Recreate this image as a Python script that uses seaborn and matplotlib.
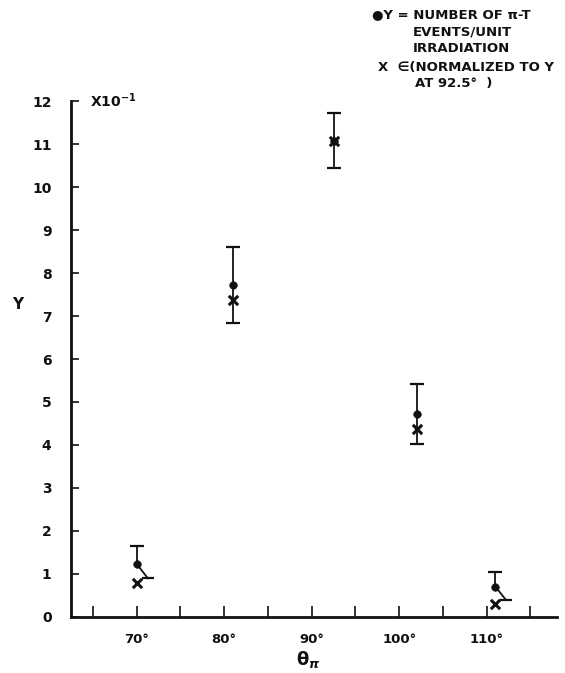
import numpy as np
import pandas as pd
import matplotlib
matplotlib.use("Agg")
import matplotlib.pyplot as plt
import seaborn as sns

# valores (Y en unidades de 10^-1)
theta = [70, 81, 92.5, 102, 111]
y_val = [1.23, 7.73, 11.07, 4.73, 0.70]
y_hi = [1.65, 8.60, 11.73, 5.43, 1.03]
y_lo = [0.89, 6.85, 10.45, 4.03, 0.39]
eps_val = [0.78, 7.37, 11.07, 4.37, 0.30]
slant_dx = [1.3, 0, 0, 0, 1.2]   # barra inferior inclinada para no tapar la X

df = pd.DataFrame({"theta": theta, "Y": y_val, "hi": y_hi, "lo": y_lo,
                   "eps": eps_val, "dx": slant_dx})

sns.set_style("white")
plt.rcParams["font.family"] = ["DejaVu Sans"]
plt.rcParams["font.weight"] = "bold"

fig = plt.figure(figsize=(5.65, 6.73), dpi=100)
ax = fig.add_axes([71 / 565, 1 - 616.7 / 673, (556.7 - 71) / 565, (616.7 - 100.5) / 673])

ink = "#111111"

# barras de error
for _, r in df.iterrows():
    if r.dx == 0:
        ax.errorbar([r.theta], [r.Y], yerr=[[r.Y - r.lo], [r.hi - r.Y]], fmt="none",
                    ecolor=ink, elinewidth=1.3, capsize=5, capthick=1.6)
    else:
        ax.plot([r.theta, r.theta], [r.Y, r.hi], color=ink, lw=1.3)
        ax.plot([r.theta], [r.hi], marker="_", ms=10, mew=1.6, color=ink)
        ax.plot([r.theta, r.theta + r.dx], [r.Y, r.lo], color=ink, lw=1.3)
        ax.plot([r.theta + r.dx], [r.lo], marker="_", ms=8, mew=1.6, color=ink)

sns.scatterplot(data=df, x="theta", y="Y", ax=ax, color=ink, s=30,
                marker="o", edgecolor=ink, zorder=5)
sns.scatterplot(data=df, x="theta", y="eps", ax=ax, color=ink, s=45,
                marker="x", linewidth=2.2, zorder=6)

ax.set_xlim(62.5, 118)
ax.set_ylim(0, 12.02)
ax.set_xticks([65, 70, 75, 80, 85, 90, 95, 100, 105, 110, 115])
ax.set_xticklabels(["", "70°", "", "80°", "", "90°", "", "100°", "", "110°", ""],
                   fontsize=9.5, fontweight="bold")
ax.set_yticks(range(0, 13))
ax.set_yticklabels([str(i) for i in range(0, 13)], fontsize=10, fontweight="bold")
ax.tick_params(axis="x", bottom=True, direction="in", length=8, width=1.2, pad=12, colors=ink)
ax.tick_params(axis="y", left=True, direction="in", length=6, width=1.2, pad=14, colors=ink)
for s in ["top", "right"]:
    ax.spines[s].set_visible(False)
for s in ["left", "bottom"]:
    ax.spines[s].set_linewidth(2)
    ax.spines[s].set_color(ink)
ax.set_xlabel("")
ax.set_ylabel("")

def px(x, y):
    return x / 565, 1 - y / 673

fig.text(*px(90, 101), "X10$^{-1}$", fontsize=10, fontweight="bold", va="center", color=ink)
fig.text(*px(18, 305), "Y", fontsize=11, fontweight="bold", ha="center", va="center", color=ink)
fig.text(*px(308, 660), "θ$_{\\pi}$", fontsize=13, fontweight="bold", ha="center", va="center", color=ink)

fig.text(*px(372, 15), "●Y = NUMBER OF π-T", fontsize=9.5, fontweight="bold", va="center", color=ink)
fig.text(*px(413, 32), "EVENTS/UNIT", fontsize=9.5, fontweight="bold", va="center", color=ink)
fig.text(*px(413, 49), "IRRADIATION", fontsize=9.5, fontweight="bold", va="center", color=ink)
fig.text(*px(378, 67), "X  ∈(NORMALIZED TO Y", fontsize=9.5, fontweight="bold", va="center", color=ink)
fig.text(*px(415, 83), "AT 92.5°  )", fontsize=9.5, fontweight="bold", va="center", color=ink)

fig.savefig("out.png", dpi=100)
